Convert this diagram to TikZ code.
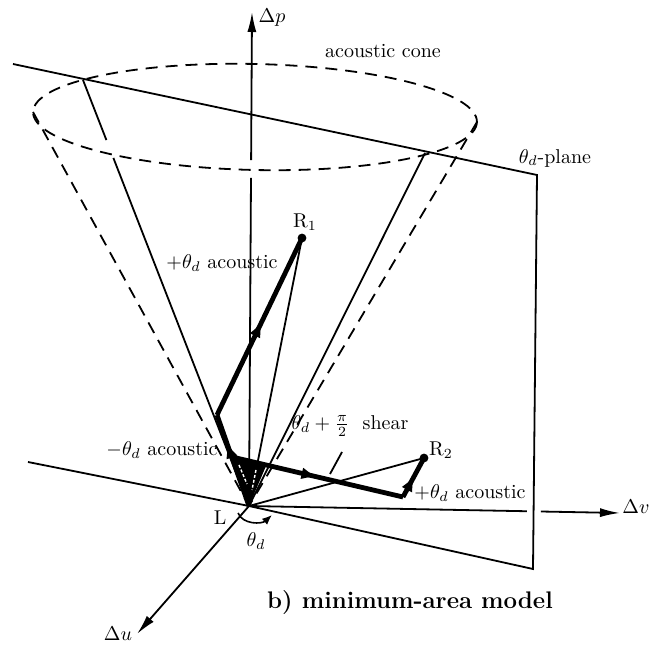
\documentclass[tikz,border=0pt]{standalone}
\usetikzlibrary{arrows.meta,decorations.markings}
\begin{document}
\begin{tikzpicture}[x=0.5pt,y=-0.5pt,
  edge/.style={line width=0.9pt},
  dashedge/.style={line width=0.9pt,dash pattern=on 6pt off 4pt},
  vec/.style={line width=2.4pt},
  axisarrow/.style={line width=0.9pt,-{Latex[length=10pt,width=4.5pt]}},
  midarrow/.style={postaction={decorate},decoration={markings,
     mark=at position #1 with {\arrow{Latex[length=8pt,width=6pt]}}}},
  lbl/.style={inner sep=1pt}]
\useasboundingbox (0,0) rectangle (659,646);
% points
\coordinate (L) at (249,506);
\coordinate (Ptop) at (252,12);
\coordinate (U) at (137,634);
\coordinate (Vend) at (620,513);
\coordinate (PL1) at (13,64);
\coordinate (PR1) at (537,175);
\coordinate (PR2) at (533,569);
\coordinate (PL2) at (28,462);
\coordinate (CL) at (83,80);
\coordinate (CR) at (425,153);
\coordinate (EL) at (33,112);
\coordinate (ER) at (477,122);
\coordinate (A) at (217,415);
\coordinate (R1) at (302,238);
\coordinate (S) at (232,457);
\coordinate (T) at (266,466);
\coordinate (B) at (403,497);
\coordinate (R2) at (424,458);
\coordinate (th1) at (238,513);
\coordinate (th2) at (272,515);
\coordinate (sh1) at (342,452);
\coordinate (sh2) at (330,474);
% gap coordinates
\path (L) -- (Ptop) coordinate[pos=0.664] (pg1) coordinate[pos=0.700] (pg2);
\path (CL) -- (L) coordinate[pos=0.141] (lg1) coordinate[pos=0.183] (lg2);
\path (L) -- (Vend) coordinate[pos=0.749] (vg1) coordinate[pos=0.787] (vg2);
% plane
\draw[edge] (PL1) -- (PR1) -- (PR2) -- (L) -- (PL2);
% cone ellipse
\begin{scope}[shift={(255,117)},rotate=-1.3]
  \draw[dashedge] (0,0) ellipse [x radius=222, y radius=53];
\end{scope}
% cone generators
\draw[dashedge] (EL) -- (L);
\draw[dashedge] (ER) -- (L);
\draw[edge] (CL) -- (lg1);
\draw[edge] (lg2) -- (L);
\draw[edge] (CR) -- (L);
% axes
\draw[edge] (L) -- (pg1);
\draw[axisarrow] (pg2) -- (Ptop);
\draw[edge] (L) -- (vg1);
\draw[axisarrow] (vg2) -- (Vend);
\draw[axisarrow] (L) -- (U);
% thin rays
\draw[edge] (L) -- (R1);
\draw[edge] (L) -- (R2);
% hatched triangle
\fill (L) -- (S) -- (T) -- cycle;
\draw[white,line width=0.7pt,dash pattern=on 1.5pt off 1pt] (239,465) -- (247,484);
\draw[white,line width=0.7pt,dash pattern=on 1.5pt off 1pt] (256,470) -- (252,490);
% vectors
\draw[vec,midarrow=0.7] (L) -- (A);
\draw[vec,midarrow=0.53] (A) -- (R1);
\draw[vec,midarrow=0.5] (S) -- (B);
\draw[vec,midarrow=0.55] (B) -- (R2);
\fill (R1) circle (2.2pt);
\fill (R2) circle (2.2pt);
% theta arc
\draw[line width=0.8pt,-{Latex[length=5pt,width=4pt]}] (th1) .. controls (243,525) and (262,524) .. (th2);
% shear leader
\draw[edge] (sh1) -- (sh2);
% labels
\node[lbl] (lp) at (272,18) {$\Delta p$};
\node[lbl] (lv) at (636,507) {$\Delta v$};
\node[lbl] (lu) at (118,634) {$\Delta u$};
\node[lbl] (lL) at (220,518) {L};
\node[lbl] (lth) at (256,541) {$\theta_d$};
\node[lbl] (lR1) at (305,222) {R$_1$};
\node[lbl] (lR2) at (441,450) {R$_2$};
\node[lbl] (lacp) at (222,263) {$+\theta_d$ acoustic};
\node[lbl] (lacm) at (162,450) {$-\theta_d$ acoustic};
\node[lbl] (lacr) at (470,493) {$+\theta_d$ acoustic};
\node[lbl] (lsh) at (350,426) {$\theta_d+\frac{\pi}{2}$\ \ shear};
\node[lbl] (lcone) at (383,51) {acoustic cone};
\node[lbl] (lpl) at (555,158) {$\theta_d$-plane};
\node[lbl] (title) at (410,603) {\large\bfseries b)~minimum-area model};
\end{tikzpicture}
\end{document}
